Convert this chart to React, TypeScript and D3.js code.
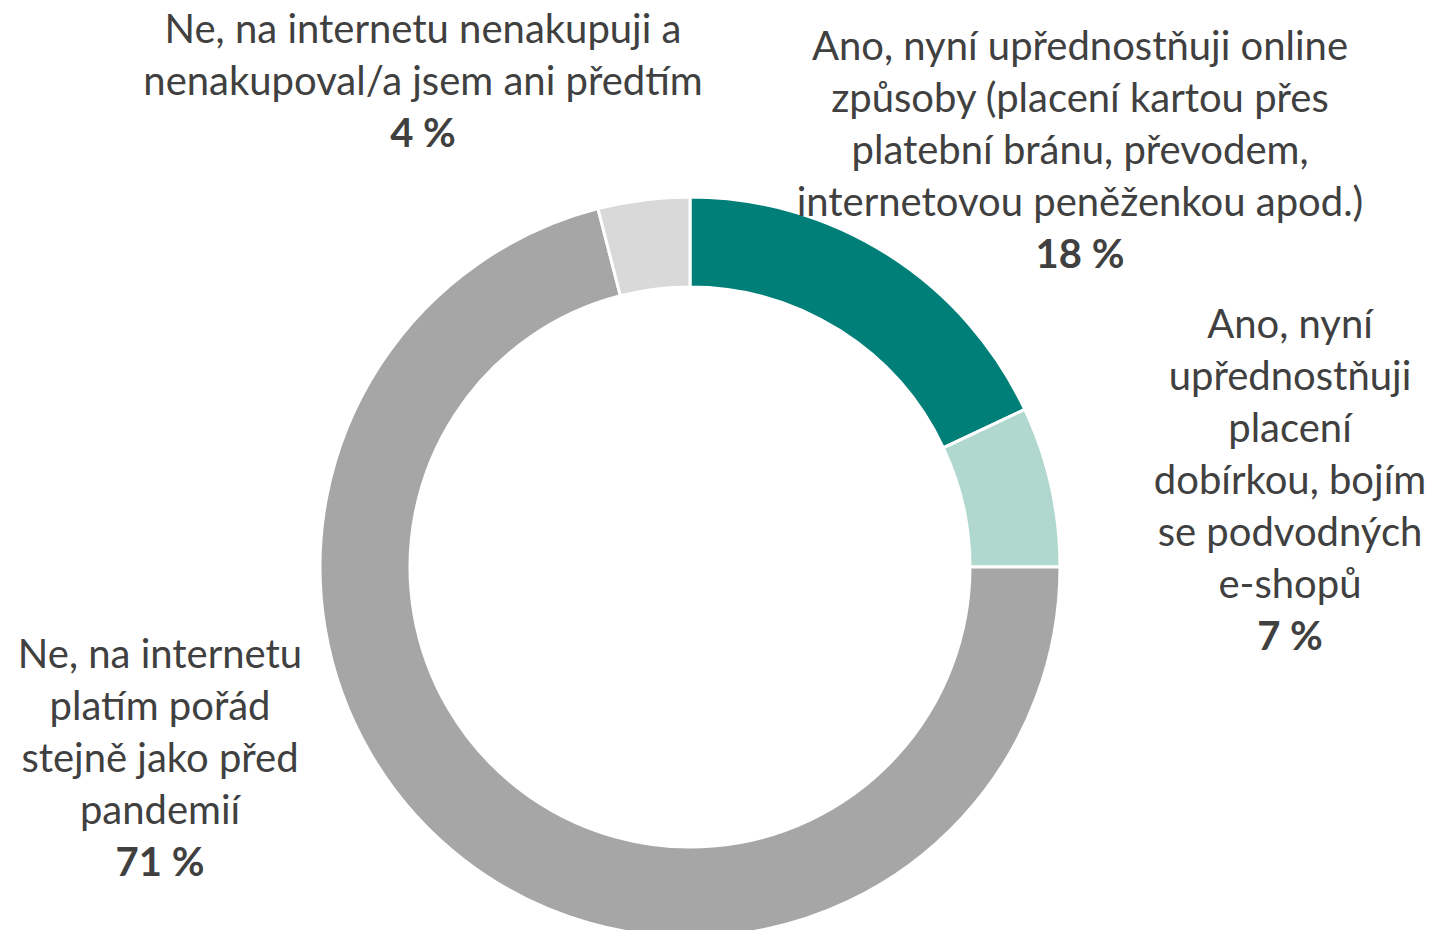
import * as d3 from 'd3';
import { useEffect, useRef } from 'react';

// answers, clockwise from 12 o'clock
const categories = [
  'Ano, nyní upřednostňuji online způsoby (placení kartou přes platební bránu, převodem, internetovou peněženkou apod.)',
  'Ano, nyní upřednostňuji placení dobírkou, bojím se podvodných e-shopů',
  'Ne, na internetu platím pořád stejně jako před pandemií',
  'Ne, na internetu nenakupuji a nenakupoval/a jsem ani předtím',
];
const values = [18, 7, 71, 4];
const colors = ['#007f79', '#b0d8cf', '#a6a6a6', '#d9d9d9'];

// how the labels wrap in the original
const labelLines = [
  ['Ano, nyní upřednostňuji online', 'způsoby (placení kartou přes', 'platební bránu, převodem,', 'internetovou peněženkou apod.)'],
  ['Ano, nyní', 'upřednostňuji', 'placení', 'dobírkou, bojím', 'se podvodných', 'e-shopů'],
  ['Ne, na internetu', 'platím pořád', 'stejně jako před', 'pandemií'],
  ['Ne, na internetu nenakupuji a', 'nenakupoval/a jsem ani předtím'],
];
// label anchor (center x, first line middle y)
const labelPos = [
  [1080, 47],
  [1290, 325],
  [160, 655],
  [423, 30],
];

export default function App() {
  const ref = useRef<SVGSVGElement>(null);

  useEffect(() => {
    const width = 1437;
    const height = 930;
    const svg = d3.select(ref.current);
    svg.selectAll('*').remove();

    const cx = 690;
    const cy = 567;
    const outer = 370;
    const inner = 280;
    const lineH = 52;

    const pie = d3.pie<number>().sort(null).value((d) => d);
    const arc = d3.arc<d3.PieArcDatum<number>>().innerRadius(inner).outerRadius(outer);

    const g = svg.append('g').attr('transform', `translate(${cx},${cy})`);
    g.selectAll('path')
      .data(pie(values))
      .enter()
      .append('path')
      .attr('d', arc)
      .attr('fill', (_, i) => colors[i])
      .attr('stroke', '#fff')
      .attr('stroke-width', 3);

    const labels = svg.append('g')
      .attr('font-family', 'Lato, "Open Sans", sans-serif')
      .attr('fill', '#404040')
      .attr('text-anchor', 'middle');

    categories.forEach((c, i) => {
      const [x, y] = labelPos[i];
      const t = labels.append('text').attr('font-size', 40).attr('data-category', c);
      labelLines[i].forEach((ln, j) => {
        t.append('tspan').attr('x', x).attr('y', y + j * lineH).attr('dy', '0.33em').text(ln);
      });
      labels.append('text')
        .attr('x', x)
        .attr('y', y + labelLines[i].length * lineH)
        .attr('dy', '0.33em')
        .attr('font-size', 40)
        .attr('font-weight', 'bold')
        .text(`${values[i]} %`);
    });

    svg.attr('width', width).attr('height', height);
  }, []);

  return (
    <svg ref={ref} style={{ position: 'absolute', left: 0, top: 0, background: '#fff' }} />
  );
}
